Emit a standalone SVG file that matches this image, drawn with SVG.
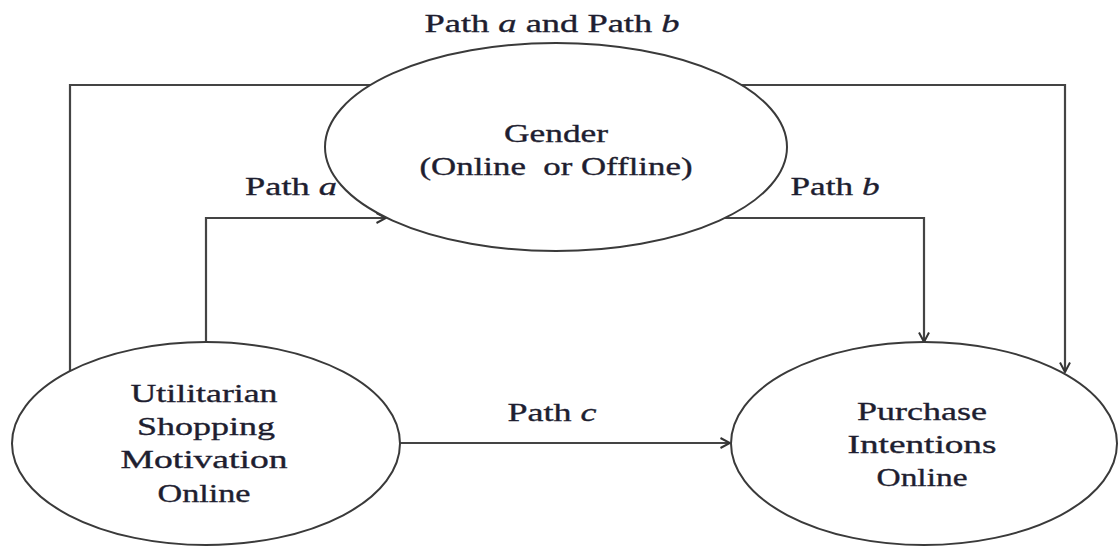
<svg xmlns="http://www.w3.org/2000/svg" width="1118" height="547" viewBox="0 0 1118 547">
  <style>
    .node { fill: #ffffff; stroke: #3a3a3a; stroke-width: 2; }
    .link { fill: none; stroke: #444444; stroke-width: 2.2; }
    .label { font-family: "Liberation Serif", "Times New Roman", serif; font-size: 26px; fill: #1e1e30; stroke: #1e1e30; stroke-width: 0.35; text-anchor: middle; }
    .var { font-style: italic; }
  </style>
  <defs>
    <marker id="arrow" viewBox="0 0 12 12" refX="11" refY="6" markerWidth="12" markerHeight="12" markerUnits="userSpaceOnUse" orient="auto">
      <path d="M1.5,1 L11,6 L1.5,11" fill="none" stroke="#333333" stroke-width="2"/>
    </marker>
  </defs>

  <!-- connectors -->
  <g id="connectors">
    <polyline class="link" points="70,371 70,85 371,85"/>
    <polyline class="link" points="741,85 1065,85 1065,372" marker-end="url(#arrow)"/>
    <polyline class="link" points="206,342 206,218 386,218" marker-end="url(#arrow)"/>
    <polyline class="link" points="725,218 924,218 924,342" marker-end="url(#arrow)"/>
    <line class="link" x1="400" y1="443" x2="730" y2="443" marker-end="url(#arrow)"/>
  </g>

  <!-- path labels -->
  <g id="path-labels">
    <text class="label" x="552" y="32" textLength="255" lengthAdjust="spacingAndGlyphs">Path <tspan class="var">a</tspan> and Path <tspan class="var">b</tspan></text>
    <text class="label" x="291" y="195" textLength="92" lengthAdjust="spacingAndGlyphs">Path <tspan class="var">a</tspan></text>
    <text class="label" x="835" y="195" textLength="89" lengthAdjust="spacingAndGlyphs">Path <tspan class="var">b</tspan></text>
    <text class="label" x="552" y="421" textLength="89" lengthAdjust="spacingAndGlyphs">Path <tspan class="var">c</tspan></text>
  </g>

  <!-- mediator -->
  <g id="gender">
    <ellipse class="node" cx="556" cy="147" rx="231" ry="104"/>
    <text class="label" x="556" y="142" textLength="104" lengthAdjust="spacingAndGlyphs">Gender</text>
    <text class="label" x="556" y="175" textLength="273" lengthAdjust="spacingAndGlyphs" style="white-space:pre">(Online  or Offline)</text>
  </g>

  <!-- predictor -->
  <g id="utilitarian">
    <ellipse class="node" cx="206" cy="443.5" rx="194" ry="101.5"/>
    <text class="label" x="204" y="402" textLength="147" lengthAdjust="spacingAndGlyphs">Utilitarian</text>
    <text class="label" x="206" y="435" textLength="138" lengthAdjust="spacingAndGlyphs">Shopping</text>
    <text class="label" x="204" y="468" textLength="167" lengthAdjust="spacingAndGlyphs">Motivation</text>
    <text class="label" x="204" y="502" textLength="93" lengthAdjust="spacingAndGlyphs">Online</text>
  </g>

  <!-- outcome -->
  <g id="purchase">
    <ellipse class="node" cx="924" cy="443.5" rx="193" ry="101.5"/>
    <text class="label" x="922" y="420" textLength="130" lengthAdjust="spacingAndGlyphs">Purchase</text>
    <text class="label" x="922" y="453" textLength="149" lengthAdjust="spacingAndGlyphs">Intentions</text>
    <text class="label" x="922" y="486" textLength="91" lengthAdjust="spacingAndGlyphs">Online</text>
  </g>
</svg>
